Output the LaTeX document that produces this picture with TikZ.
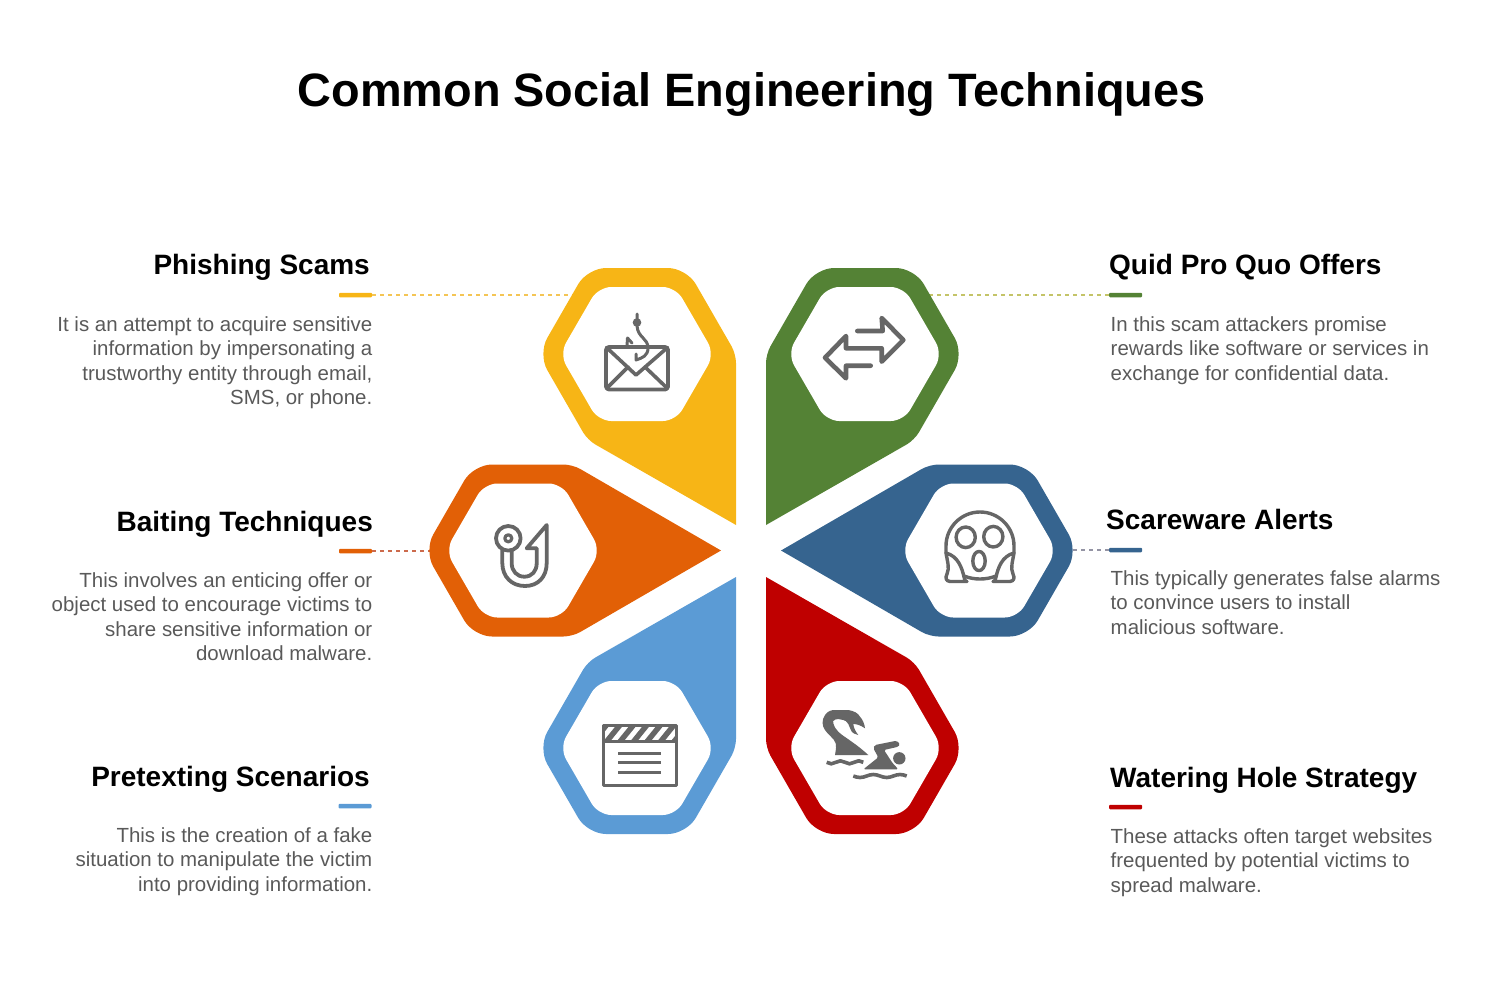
\documentclass[tikz,border=0pt]{standalone}
\usepackage{fontspec}
\setmainfont{Liberation Sans}
\definecolor{cphish}{HTML}{F7B516}
\definecolor{cquid}{HTML}{548235}
\definecolor{cbait}{HTML}{E26006}
\definecolor{cscare}{HTML}{36648F}
\definecolor{cpretext}{HTML}{5B9BD5}
\definecolor{cwater}{HTML}{BF0000}
\definecolor{cicon}{HTML}{666666}
\definecolor{cbody}{HTML}{595959}
\definecolor{lphish}{HTML}{F4C555}
\definecolor{lquid}{HTML}{C4C468}
\definecolor{lbait}{HTML}{CC6A4C}
\definecolor{lscare}{HTML}{9494A4}
\tikzset{
    headtext/.style={inner sep=0pt, font=\fontsize{28}{30}\selectfont\bfseries},
    bodytext/.style={inner sep=0pt, text=cbody, font=\fontsize{20.45}{24.45}\selectfont},
    tickbar/.style={fill=#1, rounded corners=1pt, inner sep=0pt, minimum width=33pt, minimum height=4.5pt},
    leader/.style={draw=#1, line width=1.1pt, dash pattern=on 4pt off 4pt},
    hole/.style={fill=white, rounded corners=13pt},
    softcorner/.style={rounded corners=18.5pt},
    tightcorner/.style={rounded corners=9pt},
    iconline/.style={draw=cicon, line width=#1, line cap=round, line join=round}
}
\begin{document}
\begin{tikzpicture}[x=1pt,y=-1pt]
    \useasboundingbox (0,0) rectangle (1501,988);

    \node[inner sep=0pt, anchor=base, font=\fontsize{46.85}{50}\selectfont\bfseries] (title) at (751.5,106.5) {Common Social Engineering Techniques};

    % leaders go under the petals
    \node[tickbar=cphish] (phishbar) at (355.5,295) {};
    \node[tickbar=cquid] (quidbar) at (1125.5,295) {};
    \node[tickbar=cbait] (baitbar) at (355.5,551) {};
    \node[tickbar=cscare] (scarebar) at (1125.5,550) {};
    \node[tickbar=cpretext] (pretextbar) at (355,806) {};
    \node[tickbar=cwater] (waterbar) at (1125.5,807) {};
    \coordinate (phishend) at (580,295);
    \coordinate (quidend) at (925,295);
    \coordinate (baitend) at (435,551);
    \coordinate (scareend) at (1072,550);
    \draw[leader=lphish] (phishbar.east) -- (phishend);
    \draw[leader=lquid] (quidbar.west) -- (quidend);
    \draw[leader=lbait] (baitbar.east) -- (baitend);
    \draw[leader=lscare] (scarebar.west) -- (scareend);

    % petals
    \fill[cphish] (736,525) [tightcorner] -- (587.5,440) [softcorner] -- (538,354) -- (587.5,268) -- (686.5,268) [tightcorner] -- (736,354) -- (736,525);
    \fill[cquid] (766,525) [tightcorner] -- (914.5,440) [softcorner] -- (964,354) -- (914.5,268) -- (815.5,268) [tightcorner] -- (766,354) -- (766,525);
    \fill[cbait] (721,550.5) [tightcorner] -- (572.5,636.5) [softcorner] -- (473.5,636.5) -- (424,550.5) -- (473.5,464.5) [tightcorner] -- (572.5,464.5) -- (721,550.5);
    \fill[cscare] (781,550.5) [tightcorner] -- (929.5,636.5) [softcorner] -- (1028.5,636.5) -- (1078,550.5) -- (1028.5,464.5) [tightcorner] -- (929.5,464.5) -- (781,550.5);
    \fill[cpretext] (736,577) [tightcorner] -- (587.5,662) [softcorner] -- (538,748) -- (587.5,834) -- (686.5,834) [tightcorner] -- (736,748) -- (736,577);
    \fill[cwater] (766,577) [tightcorner] -- (914.5,662) [softcorner] -- (964,748) -- (914.5,834) -- (815.5,834) [tightcorner] -- (766,748) -- (766,577);

    % white holes
    \foreach \cx/\cy in {637/354, 865/354, 523/550.5, 979/550.5, 637/748, 865/748} {
        \fill[hole] (\cx-77.5,\cy) -- (\cx-38.7,\cy-67) -- (\cx+38.7,\cy-67) -- (\cx+77.5,\cy) -- (\cx+38.7,\cy+67) -- (\cx-38.7,\cy+67) -- cycle;
    }

    % mail and hook
    \draw[iconline=3.8pt, rounded corners=3pt] (606,347) rectangle (668,389.5);
    \draw[iconline=3.6pt] (606.5,347.5) -- (636,375) -- (667.5,347.5);
    \draw[iconline=3.6pt] (607,388) -- (628,367) (667,388) -- (645,367);
    \draw[iconline=3pt] (637,314) -- (637,319) (637,326) .. controls (638,338) and (648,338) .. (648,348) .. controls (648,356) and (642,358) .. (636,360) -- (636,354);
    \fill[cicon] (637,322.5) circle (4.3);
    \draw[iconline=3pt] (627,346) -- (627.5,338) -- (632,343);

    % swap arrows
    \draw[iconline=4.6pt] (857.3,331) -- (882.7,331) -- (881.7,318) -- (903.3,340) -- (881.7,361.7) -- (881.7,348.3) -- (846,348.3) -- (846,336) -- (825,357.7) -- (846,378.3) -- (846,365.7) -- (870.7,365.7);

    % fish hook
    \draw[iconline=3.8pt] (508.3,538.3) circle (12.3);
    \draw[iconline=3.2pt] (508.3,538.3) circle (3.5);
    \draw[iconline=3.8pt] (502.3,550) -- (502.3,563) .. controls (502.3,577) and (512,586) .. (525,586) .. controls (538,586) and (546.7,577) .. (546.7,563) -- (546.7,525) -- (526.7,548.3) -- (536.7,548.3) -- (536.7,563.3) .. controls (536.7,571) and (532,576.7) .. (524.3,576.7) .. controls (517,576.7) and (511.7,571) .. (511.7,563.3) -- (511.7,550);

    % scream face
    \draw[iconline=3.4pt] (946,553) -- (946,546) arc[start angle=180, end angle=360, radius=34] -- (1014,553);
    \draw[iconline=3.4pt] (965.7,537.3) ellipse (9.6 and 10.3);
    \draw[iconline=3.4pt] (993.3,536.7) ellipse (9.6 and 10.3);
    \draw[iconline=3.4pt] (979,561) ellipse (6.2 and 9.6);
    \draw[iconline=3.4pt] (946,553) .. controls (958,556) and (962,568) .. (964,577) .. controls (965,581) and (966,582) .. (967,581.5) -- (950,581.5) .. controls (946,581) and (945,578) .. (947,574) .. controls (950,568) and (947,560) .. (946,553);
    \draw[iconline=3.4pt] (1014,553) .. controls (1002,556) and (998,568) .. (996,577) .. controls (995,581) and (994,582) .. (993,581.5) -- (1010,581.5) .. controls (1014,581) and (1015,578) .. (1013,574) .. controls (1010,568) and (1013,560) .. (1014,553);
    \draw[iconline=3.4pt] (964,576) .. controls (974,580) and (986,580) .. (996,576);

    % clapper board
    \begin{scope}
        \clip (603,725.5) rectangle (676,741);
        \foreach \sx in {590,603.5,...,680} {
            \fill[cicon] (\sx,741) -- (\sx+7,741) -- (\sx+20,725) -- (\sx+13,725) -- cycle;
        }
    \end{scope}
    \draw[iconline=3pt, line cap=butt] (603,725.5) rectangle (676,785);
    \draw[iconline=3pt, line cap=butt] (603,741) -- (676,741);
    \foreach \ly in {753.5,762.7,772} {
        \draw[iconline=3pt, line cap=butt] (618.3,\ly) -- (660.7,\ly);
    }

    % serpent and swimmer
    \fill[cicon] (835,755) .. controls (836,749) and (836.5,746) .. (835.7,743.3) .. controls (834,738) and (828,735) .. (825,730) .. controls (822,726) and (821.5,720) .. (825,715) .. controls (828,711) and (831,710) .. (835,710) -- (848.3,710) .. controls (854,711) and (858,713) .. (860,716.7) .. controls (863,720) and (864.5,724) .. (865,728.3) .. controls (861,725.5) and (857,724) .. (853.3,724) .. controls (853.5,728) and (856,732) .. (858.3,735) .. controls (855,734.5) and (853,733) .. (851.7,731.7) .. controls (850,729) and (849.5,726) .. (848.3,724) .. controls (847,721.5) and (845,720.3) .. (843.3,720) .. controls (840,719) and (837.5,719) .. (835.7,719.3) .. controls (833,720) and (832.5,722) .. (833.3,723.3) .. controls (834.5,727) and (836,729.5) .. (838.3,731.7) .. controls (842,735.5) and (847,738) .. (851.7,741.7) .. controls (858,746) and (864,751) .. (868.3,755) -- cycle;
    \fill[cicon] (899.3,758.3) circle (6.2);
    \fill[cicon, rounded corners=1.5pt] (863.3,769.3) -- (878.3,757.3) -- (873.3,748.3) -- (875,745) -- (896.7,740.7) -- (900,744.3) -- (898.3,746.7) -- (884,750) -- (892.3,762.7) -- (898.3,769.3) -- cycle;
    \foreach \wx/\wy/\wl in {826.7/762.3/36.6, 853.3/776/53.4} {
        \draw[iconline=3.6pt, line cap=butt] (\wx,\wy) sin (\wx+\wl/8,\wy+1.5) cos (\wx+\wl/4,\wy) sin (\wx+3*\wl/8,\wy-1.5) cos (\wx+\wl/2,\wy) sin (\wx+5*\wl/8,\wy+1.5) cos (\wx+3*\wl/4,\wy) sin (\wx+7*\wl/8,\wy-1.5) cos (\wx+\wl,\wy);
    }

    % left column
    \node[headtext, anchor=base east] (phishhead) at (370,274.5) {Phishing Scams};
    \node[bodytext, anchor=north east, align=right] (phishbody) at (372.5,316.5) {It is an attempt to acquire sensitive\\information by impersonating a\\trustworthy entity through email,\\SMS, or phone.};
    \node[headtext, anchor=base east] (baithead) at (373,531.5) {Baiting Techniques};
    \node[bodytext, anchor=north east, align=right] (baitbody) at (372.5,572.5) {This involves an enticing offer or\\object used to encourage victims to\\share sensitive information or\\download malware.};
    \node[headtext, anchor=base east] (pretexthead) at (370,786.5) {Pretexting Scenarios};
    \node[bodytext, anchor=north east, align=right] (pretextbody) at (372.5,827.5) {This is the creation of a fake\\situation to manipulate the victim\\into providing information.};

    % right column
    \node[headtext, anchor=base west] (quidhead) at (1109,274.5) {Quid Pro Quo Offers};
    \node[bodytext, anchor=north west, align=left] (quidbody) at (1110.5,316.5) {In this scam attackers promise\\rewards like software or services in\\exchange for confidential data.};
    \node[headtext, anchor=base west] (scarehead) at (1106,529.5) {Scareware Alerts};
    \node[bodytext, anchor=north west, align=left] (scarebody) at (1110.5,570.5) {This typically generates false alarms\\to convince users to install\\malicious software.};
    \node[headtext, anchor=base west] (waterhead) at (1110,787.5) {Watering Hole Strategy};
    \node[bodytext, anchor=north west, align=left] (waterbody) at (1110.5,828.5) {These attacks often target websites\\frequented by potential victims to\\spread malware.};

\end{tikzpicture}
\end{document}
